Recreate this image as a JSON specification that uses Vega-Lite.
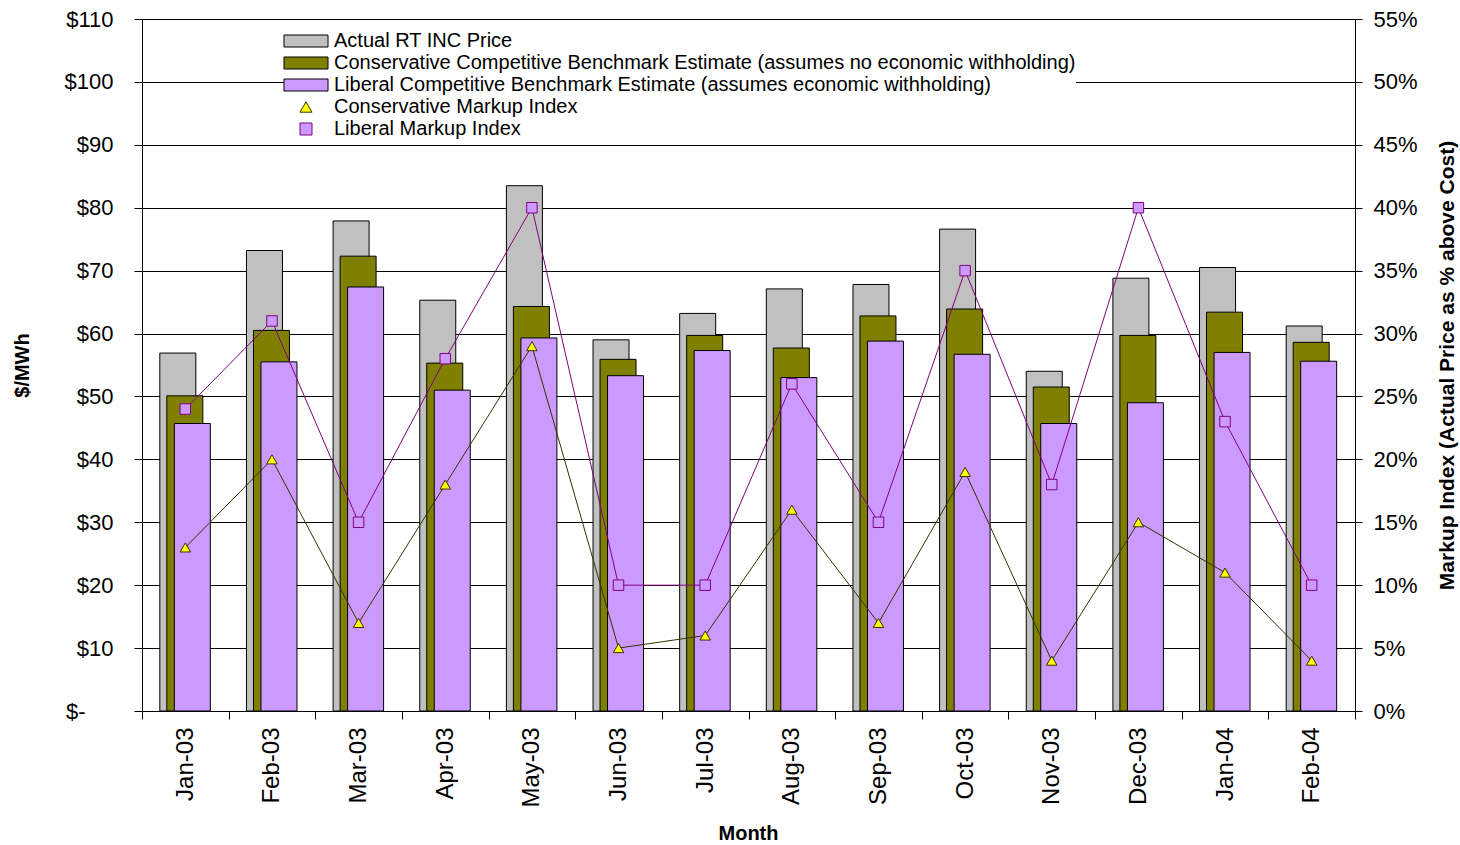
{
  "$schema": "https://vega.github.io/schema/vega-lite/v6.json",
  "width": 1213,
  "height": 692,
  "autosize": "none",
  "padding": {"left": 142, "top": 19, "right": 105, "bottom": 134},
  "background": "white",
  "config": {
    "font": "Liberation Sans",
    "view": {"stroke": null},
    "axis": {"labelColor": "black", "titleColor": "black", "domainColor": "black", "tickColor": "black", "labelFont": "Liberation Sans", "titleFont": "Liberation Sans"},
    "legend": {"labelFont": "Liberation Sans", "labelColor": "black"}
  },
  "datasets": {
    "prices": [
      {"month": "Jan-03", "series": "Actual RT INC Price", "value": 56.9},
      {"month": "Feb-03", "series": "Actual RT INC Price", "value": 73.2},
      {"month": "Mar-03", "series": "Actual RT INC Price", "value": 77.9},
      {"month": "Apr-03", "series": "Actual RT INC Price", "value": 65.3},
      {"month": "May-03", "series": "Actual RT INC Price", "value": 83.5},
      {"month": "Jun-03", "series": "Actual RT INC Price", "value": 59.0},
      {"month": "Jul-03", "series": "Actual RT INC Price", "value": 63.2},
      {"month": "Aug-03", "series": "Actual RT INC Price", "value": 67.1},
      {"month": "Sep-03", "series": "Actual RT INC Price", "value": 67.8},
      {"month": "Oct-03", "series": "Actual RT INC Price", "value": 76.6},
      {"month": "Nov-03", "series": "Actual RT INC Price", "value": 54.0},
      {"month": "Dec-03", "series": "Actual RT INC Price", "value": 68.8},
      {"month": "Jan-04", "series": "Actual RT INC Price", "value": 70.5},
      {"month": "Feb-04", "series": "Actual RT INC Price", "value": 61.2},
      {"month": "Jan-03", "series": "Conservative Competitive Benchmark Estimate (assumes no economic withholding)", "value": 50.1},
      {"month": "Feb-03", "series": "Conservative Competitive Benchmark Estimate (assumes no economic withholding)", "value": 60.5},
      {"month": "Mar-03", "series": "Conservative Competitive Benchmark Estimate (assumes no economic withholding)", "value": 72.3},
      {"month": "Apr-03", "series": "Conservative Competitive Benchmark Estimate (assumes no economic withholding)", "value": 55.3},
      {"month": "May-03", "series": "Conservative Competitive Benchmark Estimate (assumes no economic withholding)", "value": 64.3},
      {"month": "Jun-03", "series": "Conservative Competitive Benchmark Estimate (assumes no economic withholding)", "value": 55.9},
      {"month": "Jul-03", "series": "Conservative Competitive Benchmark Estimate (assumes no economic withholding)", "value": 59.7},
      {"month": "Aug-03", "series": "Conservative Competitive Benchmark Estimate (assumes no economic withholding)", "value": 57.7},
      {"month": "Sep-03", "series": "Conservative Competitive Benchmark Estimate (assumes no economic withholding)", "value": 62.8},
      {"month": "Oct-03", "series": "Conservative Competitive Benchmark Estimate (assumes no economic withholding)", "value": 63.9},
      {"month": "Nov-03", "series": "Conservative Competitive Benchmark Estimate (assumes no economic withholding)", "value": 51.5},
      {"month": "Dec-03", "series": "Conservative Competitive Benchmark Estimate (assumes no economic withholding)", "value": 59.7},
      {"month": "Jan-04", "series": "Conservative Competitive Benchmark Estimate (assumes no economic withholding)", "value": 63.4},
      {"month": "Feb-04", "series": "Conservative Competitive Benchmark Estimate (assumes no economic withholding)", "value": 58.6},
      {"month": "Jan-03", "series": "Liberal Competitive Benchmark Estimate (assumes economic withholding)", "value": 45.7},
      {"month": "Feb-03", "series": "Liberal Competitive Benchmark Estimate (assumes economic withholding)", "value": 55.5},
      {"month": "Mar-03", "series": "Liberal Competitive Benchmark Estimate (assumes economic withholding)", "value": 67.4},
      {"month": "Apr-03", "series": "Liberal Competitive Benchmark Estimate (assumes economic withholding)", "value": 51.0},
      {"month": "May-03", "series": "Liberal Competitive Benchmark Estimate (assumes economic withholding)", "value": 59.3},
      {"month": "Jun-03", "series": "Liberal Competitive Benchmark Estimate (assumes economic withholding)", "value": 53.3},
      {"month": "Jul-03", "series": "Liberal Competitive Benchmark Estimate (assumes economic withholding)", "value": 57.3},
      {"month": "Aug-03", "series": "Liberal Competitive Benchmark Estimate (assumes economic withholding)", "value": 53.0},
      {"month": "Sep-03", "series": "Liberal Competitive Benchmark Estimate (assumes economic withholding)", "value": 58.8},
      {"month": "Oct-03", "series": "Liberal Competitive Benchmark Estimate (assumes economic withholding)", "value": 56.7},
      {"month": "Nov-03", "series": "Liberal Competitive Benchmark Estimate (assumes economic withholding)", "value": 45.7},
      {"month": "Dec-03", "series": "Liberal Competitive Benchmark Estimate (assumes economic withholding)", "value": 49.0},
      {"month": "Jan-04", "series": "Liberal Competitive Benchmark Estimate (assumes economic withholding)", "value": 57.0},
      {"month": "Feb-04", "series": "Liberal Competitive Benchmark Estimate (assumes economic withholding)", "value": 55.6}
    ],
    "markups": [
      {"month": "Jan-03", "series": "Conservative Markup Index", "value": 0.13},
      {"month": "Feb-03", "series": "Conservative Markup Index", "value": 0.20},
      {"month": "Mar-03", "series": "Conservative Markup Index", "value": 0.07},
      {"month": "Apr-03", "series": "Conservative Markup Index", "value": 0.18},
      {"month": "May-03", "series": "Conservative Markup Index", "value": 0.29},
      {"month": "Jun-03", "series": "Conservative Markup Index", "value": 0.05},
      {"month": "Jul-03", "series": "Conservative Markup Index", "value": 0.06},
      {"month": "Aug-03", "series": "Conservative Markup Index", "value": 0.16},
      {"month": "Sep-03", "series": "Conservative Markup Index", "value": 0.07},
      {"month": "Oct-03", "series": "Conservative Markup Index", "value": 0.19},
      {"month": "Nov-03", "series": "Conservative Markup Index", "value": 0.04},
      {"month": "Dec-03", "series": "Conservative Markup Index", "value": 0.15},
      {"month": "Jan-04", "series": "Conservative Markup Index", "value": 0.11},
      {"month": "Feb-04", "series": "Conservative Markup Index", "value": 0.04},
      {"month": "Jan-03", "series": "Liberal Markup Index", "value": 0.24},
      {"month": "Feb-03", "series": "Liberal Markup Index", "value": 0.31},
      {"month": "Mar-03", "series": "Liberal Markup Index", "value": 0.15},
      {"month": "Apr-03", "series": "Liberal Markup Index", "value": 0.28},
      {"month": "May-03", "series": "Liberal Markup Index", "value": 0.40},
      {"month": "Jun-03", "series": "Liberal Markup Index", "value": 0.10},
      {"month": "Jul-03", "series": "Liberal Markup Index", "value": 0.10},
      {"month": "Aug-03", "series": "Liberal Markup Index", "value": 0.26},
      {"month": "Sep-03", "series": "Liberal Markup Index", "value": 0.15},
      {"month": "Oct-03", "series": "Liberal Markup Index", "value": 0.35},
      {"month": "Nov-03", "series": "Liberal Markup Index", "value": 0.18},
      {"month": "Dec-03", "series": "Liberal Markup Index", "value": 0.40},
      {"month": "Jan-04", "series": "Liberal Markup Index", "value": 0.23},
      {"month": "Feb-04", "series": "Liberal Markup Index", "value": 0.10}
    ]
  },
  "encoding": {
    "x": {
      "field": "month", "type": "ordinal",
      "sort": ["Jan-03","Feb-03","Mar-03","Apr-03","May-03","Jun-03","Jul-03","Aug-03","Sep-03","Oct-03","Nov-03","Dec-03","Jan-04","Feb-04"],
      "scale": {"paddingInner": 0, "paddingOuter": 0},
      "axis": {
        "title": "Month", "titleFontSize": 20, "titleFontWeight": "bold",
        "titleX": 606, "titleY": 122, "titleBaseline": "middle", "titleAlign": "center",
        "labelAngle": 270, "labelFontSize": 24, "labelPadding": 8,
        "tickBand": "extent", "tickSize": 8, "grid": false, "domainWidth": 1, "tickWidth": 1
      }
    }
  },
  "layer": [
    {
      "data": {"name": "prices"},
      "encoding": {
        "y": {
          "field": "value", "type": "quantitative",
          "scale": {"domain": [0, 110], "nice": false},
          "axis": {
            "title": "$/MWh", "titleFontSize": 20, "titleFontWeight": "bold",
            "titleAngle": 270, "titleX": -120, "titleY": 346, "titleBaseline": "middle", "titleAlign": "center",
            "values": [0,10,20,30,40,50,60,70,80,90,100,110],
            "labelExpr": "datum.value === 0 ? '$-' : '$' + datum.value",
            "labelFontSize": 22,
            "labelPadding": {"condition": {"test": "datum.value === 0", "value": 49}, "value": 21},
            "tickSize": 8,
            "grid": true, "gridColor": "black", "gridWidth": 1, "gridOpacity": 1
          }
        },
        "color": {
          "field": "series", "type": "nominal",
          "scale": {
            "domain": ["Actual RT INC Price", "Conservative Competitive Benchmark Estimate (assumes no economic withholding)", "Liberal Competitive Benchmark Estimate (assumes economic withholding)"],
            "range": ["#c0c0c0", "#808000", "#cc99ff"]
          },
          "legend": {
            "title": null, "orient": "none", "legendX": 154, "legendY": 12,
            "symbolType": "M-3.67,-1H3.67V1H-3.67Z", "symbolSize": 144,
            "symbolStrokeColor": "black", "symbolStrokeWidth": 1, "symbolOpacity": 1,
            "labelFontSize": 20, "labelOffset": 18, "rowPadding": 2, "labelLimit": 1200,
            "fillColor": "white", "padding": 0
          }
        }
      },
      "layer": [
        {
          "transform": [{"filter": "datum.series === 'Actual RT INC Price'"}],
          "mark": {"type": "bar", "width": 36, "xOffset": -7.5, "stroke": "black", "strokeWidth": 1, "opacity": 1}
        },
        {
          "transform": [{"filter": "indexof(datum.series, 'Conservative') === 0"}],
          "mark": {"type": "bar", "width": 36, "xOffset": -0.5, "stroke": "black", "strokeWidth": 1, "opacity": 1}
        },
        {
          "transform": [{"filter": "indexof(datum.series, 'Liberal') === 0"}],
          "mark": {"type": "bar", "width": 36, "xOffset": 7, "stroke": "black", "strokeWidth": 1, "opacity": 1}
        }
      ]
    },
    {
      "data": {"name": "markups"},
      "encoding": {
        "y": {
          "field": "value", "type": "quantitative",
          "scale": {"domain": [0, 0.55], "nice": false},
          "axis": {
            "orient": "right",
            "title": "Markup Index (Actual Price as % above Cost)", "titleFontSize": 21, "titleFontWeight": "bold",
            "titleAngle": 270, "titleX": 92, "titleY": 346, "titleBaseline": "middle", "titleAlign": "center",
            "values": [0,0.05,0.1,0.15,0.2,0.25,0.3,0.35,0.4,0.45,0.5,0.55],
            "format": ".0%", "labelFontSize": 22, "labelPadding": 11, "tickSize": 7, "grid": false
          }
        }
      },
      "layer": [
        {
          "mark": {"type": "line", "strokeWidth": 1},
          "encoding": {
            "stroke": {
              "field": "series", "type": "nominal",
              "scale": {"domain": ["Conservative Markup Index", "Liberal Markup Index"], "range": ["#333300", "#800080"]},
              "legend": {
                "title": null, "orient": "none", "legendX": 154, "legendY": 78,
                "symbolSize": 144, "symbolStrokeWidth": 1, "symbolOpacity": 1,
                "labelFontSize": 20, "labelOffset": 18, "rowPadding": 2, "labelLimit": 1200,
                "fillColor": "white", "padding": 0,
                "encode": {
                  "symbols": {
                    "update": {
                      "shape": {"signal": "datum.value === 'Conservative Markup Index' ? 'M-3.67,0H-0.55M0.55,0H3.67M-1,0.8L0,-0.9L1,0.8Z' : 'M-3.67,0H-0.8M0.8,0H3.67M-0.8,-0.8H0.8V0.8H-0.8Z'"},
                      "fill": {"signal": "datum.value === 'Conservative Markup Index' ? '#ffff00' : '#cc99ff'"},
                      "stroke": {"signal": "datum.value === 'Conservative Markup Index' ? '#333300' : '#800080'"},
                      "strokeWidth": {"value": 1},
                      "opacity": {"value": 1}
                    }
                  }
                }
              }
            }
          }
        },
        {
          "mark": {"type": "point", "filled": true, "size": 110, "strokeWidth": 1, "opacity": 1},
          "encoding": {
            "stroke": {"field": "series", "type": "nominal", "scale": {"domain": ["Conservative Markup Index", "Liberal Markup Index"], "range": ["#333300", "#800080"]}, "legend": null},
            "shape": {"field": "series", "type": "nominal", "scale": {"domain": ["Conservative Markup Index", "Liberal Markup Index"], "range": ["triangle-up", "square"]}, "legend": null},
            "fill": {"field": "series", "type": "nominal", "scale": {"domain": ["Conservative Markup Index", "Liberal Markup Index"], "range": ["#ffff00", "#cc99ff"]}, "legend": null}
          }
        }
      ]
    }
  ],
  "resolve": {"scale": {"y": "independent"}}
}
